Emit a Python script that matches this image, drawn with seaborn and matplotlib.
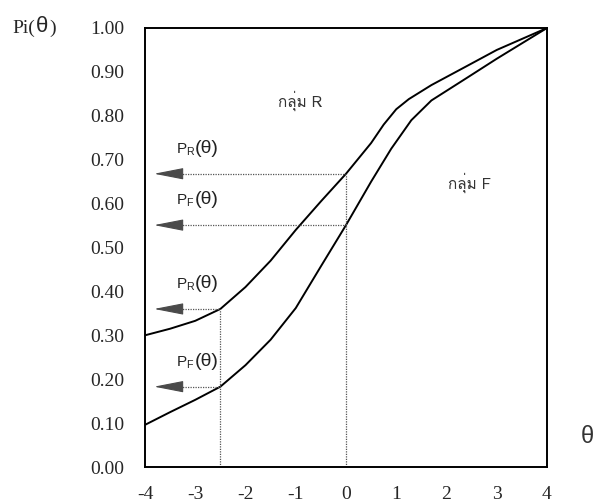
import matplotlib
matplotlib.use("Agg")
import matplotlib.pyplot as plt
import seaborn as sns
import pandas as pd
from matplotlib import font_manager, ft2font

# ---- data ----
theta_R = [-4.0, -3.5, -3.0, -2.5, -2.0, -1.5, -1.0, -0.5, 0.0, 0.5, 0.75, 1.0, 1.25, 1.7, 2.4, 3.0, 4.0]
p_R     = [0.300, 0.315, 0.333, 0.360, 0.410, 0.470, 0.540, 0.605, 0.668, 0.738, 0.780, 0.815, 0.838, 0.870, 0.913, 0.950, 1.000]
theta_F = [-4.0, -3.5, -3.0, -2.5, -2.0, -1.5, -1.0, -0.5, 0.0, 0.5, 0.9, 1.3, 1.7, 2.4, 3.0, 4.0]
p_F     = [0.096, 0.125, 0.153, 0.183, 0.232, 0.290, 0.362, 0.457, 0.551, 0.650, 0.725, 0.790, 0.835, 0.886, 0.930, 1.000]

marker_thetas = [-2.5, 0.0]          # vertical reference lines
p_R_at_marker = [0.360, 0.668]
p_F_at_marker = [0.183, 0.551]

x_ticks = [-4, -3, -2, -1, 0, 1, 2, 3, 4]
y_ticks = [0.0, 0.1, 0.2, 0.3, 0.4, 0.5, 0.6, 0.7, 0.8, 0.9, 1.0]
y_ticklabels = ["0.00", "0.10", "0.20", "0.30", "0.40", "0.50", "0.60", "0.70", "0.80", "0.90", "1.00"]

group_R_label = "กลุ่ม R"
group_F_label = "กลุ่ม F"


def find_font(ch, default="DejaVu Sans"):
    for f in font_manager.fontManager.ttflist:
        try:
            if ord(ch) in ft2font.FT2Font(f.fname).get_charmap():
                return f.name
        except Exception:
            pass
    return default


sns.set_style("white")
thai_font = find_font("ก")
plt.rcParams["font.family"] = ["Liberation Sans", "DejaVu Sans"]
plt.rcParams["mathtext.fontset"] = "custom"
plt.rcParams["mathtext.rm"] = "Liberation Sans"

fig = plt.figure(figsize=(6.0, 5.04), dpi=100)
ax = fig.add_axes([145 / 600, 1 - 467 / 504, (547 - 145) / 600, (467 - 28) / 504])

df = pd.concat([
    pd.DataFrame({"theta": theta_R, "p": p_R, "group": "R"}),
    pd.DataFrame({"theta": theta_F, "p": p_F, "group": "F"}),
])
sns.lineplot(data=df, x="theta", y="p", units="group", estimator=None,
             color="black", lw=1.4, ax=ax, sort=False)

ax.set_xlim(-4, 4)
ax.set_ylim(0, 1)
ax.set_xlabel("")
ax.set_ylabel("")
ax.set_xticks(x_ticks)
ax.set_xticklabels([str(t) for t in x_ticks], family="Liberation Serif", fontsize=14)
ax.set_yticks(y_ticks)
ax.set_yticklabels(y_ticklabels, family="Liberation Serif", fontsize=14)
ax.tick_params(axis="both", length=0)
ax.tick_params(axis="x", pad=14)
ax.tick_params(axis="y", pad=15)
for s in ax.spines.values():
    s.set_color("black")
    s.set_linewidth(1.4)

dot = dict(color="#555555", lw=0.9, linestyle=(0, (1, 1)))
arrow_tip = -3.82
head_len = 0.52
for th, pr, pf in zip(marker_thetas, p_R_at_marker, p_F_at_marker):
    ax.plot([th, th], [0, pr], **dot)
    for val, sub in [(pr, "R"), (pf, "F")]:
        ax.plot([arrow_tip + head_len, th], [val, val], **dot)
        ax.annotate("", xy=(arrow_tip, val), xytext=(arrow_tip + head_len, val),
                    arrowprops=dict(arrowstyle="-|>,head_length=1.85,head_width=0.36",
                                    color="#4a4a4a", lw=0.8, shrinkA=0, shrinkB=0,
                                    mutation_scale=10))
        ax.text(-3.38, val + 0.055, "P$_{\\mathregular{" + sub + "}}$",
                fontsize=11, color="#222222", va="center", ha="left")
        ax.text(-3.0, val + 0.058, "(θ)", fontsize=14, color="#222222",
                va="center", ha="left")

ax.text(-0.92, 0.835, group_R_label, family=[thai_font, "DejaVu Sans"],
        fontsize=11, color="#333333", ha="center", va="center")
ax.text(2.45, 0.648, group_F_label, family=[thai_font, "DejaVu Sans"],
        fontsize=11, color="#333333", ha="center", va="center")

fig.text(12 / 600, 1 - 28 / 504, "Pi(", family="Liberation Serif", fontsize=14,
         ha="left", va="center")
fig.text(36 / 600, 1 - 27 / 504, "θ", family="Liberation Sans", fontsize=16,
         ha="left", va="center")
fig.text(49 / 600, 1 - 28 / 504, ")", family="Liberation Serif", fontsize=14,
         ha="left", va="center")
fig.text(587 / 600, 1 - 437 / 504, "θ", family="Liberation Sans", fontsize=17,
         ha="center", va="center", color="#333333")

fig.savefig("out.png", dpi=100)
